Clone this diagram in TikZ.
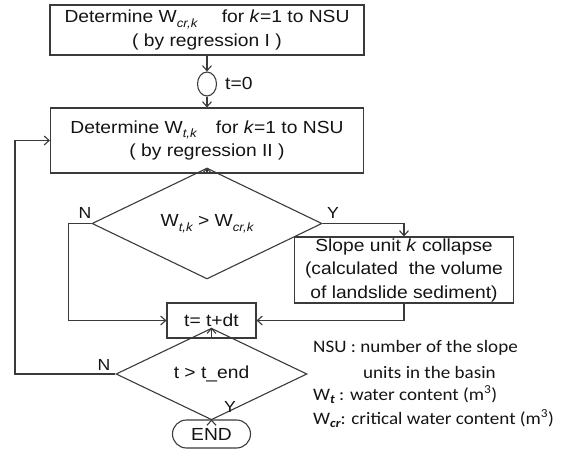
\documentclass[tikz,border=0pt]{standalone}
\usepackage{fontspec}
\setmainfont{Liberation Sans}[FakeStretch=1.1]
\newfontfamily\legendfont{Carlito}[FakeStretch=1.09]
\usetikzlibrary{arrows.meta,shapes.geometric,shapes.misc}

\definecolor{linegray}{HTML}{3A3A3A}
\definecolor{txt}{HTML}{141414}

% italic, lowered subscript used after W
\newcommand{\lowsub}[1]{\raisebox{-0.5ex}{\fontsize{12}{12}\selectfont\itshape #1}}
\newcommand{\mainsize}{\fontsize{17.5}{23.5}\selectfont}

\begin{document}
\begin{tikzpicture}[x=1pt,y=-1pt,
  every node/.style={text=txt},
  line/.style={draw=linegray, line width=1.1pt},
  arr/.style={line, -{Straight Barb[length=5pt,width=9pt]}},
  procbox/.style={rectangle, draw=linegray, line width=1.1pt, inner sep=0pt,
    align=center, font=\mainsize},
  decision/.style={diamond, draw=linegray, line width=1.1pt, inner sep=0pt,
    font=\mainsize},
  lbl/.style={font=\fontsize{16}{16}\selectfont, inner sep=0pt},
  legend/.style={font=\legendfont\fontsize{17.5}{17.5}\selectfont, inner sep=0pt, anchor=west}
]
\useasboundingbox (0,0) rectangle (563,450);

% process boxes
\node[procbox, minimum width=314pt, minimum height=50pt] (b1) at (207,30)
  {Determine W\lowsub{cr,k}\hspace{1.4em}for \textit{k}=1 to NSU\\( by regression I )};
\node[ellipse, draw=linegray, line width=1.1pt, inner sep=0pt,
  minimum width=19pt, minimum height=24pt] (c0) at (207,84) {};
\node[lbl, anchor=west, font=\mainsize] (t0) at (225,83) {t=0};
\node[procbox, minimum width=313pt, minimum height=65pt] (b2) at (207,140.5)
  {Determine W\lowsub{t,k}\hspace{1.1em}for \textit{k}=1 to NSU\\( by regression II )};

% first decision
\node[decision, minimum width=230pt, minimum height=71pt] (d1) at (207,223.5)
  {W\lowsub{t,k} > W\lowsub{cr,k}};
\node[lbl] (n1) at (85,213) {N};
\node[lbl] (y1) at (333,213) {Y};

\node[procbox, minimum width=219pt, minimum height=66pt] (b3) at (404,270)
  {Slope unit \textit{k} collapse\\(calculated\ \ the volume\\of landslide sediment)};

\node[procbox, minimum width=89pt, minimum height=35pt] (tdt) at (211.5,320.5) {t= t+dt};

% second decision
\node[decision, minimum width=191pt, minimum height=46pt] (d2) at (211.5,374) {t > t\_end};
\node[lbl] (n2) at (104,365) {N};
\node[lbl] (y2) at (230,407) {Y};

\node[rounded rectangle, draw=linegray, line width=1.1pt, inner sep=0pt,
  minimum width=78pt, minimum height=28pt, font=\mainsize] (end) at (211.5,434) {END};

% connectors
\draw[arr] (b1.south) -- (c0.north);
\draw[arr] (c0.south) -- (b2.north);
\draw[arr] (b2.south) -- (d1.north);
\draw[arr] (d1.west) -- ++(-23,0) |- (tdt.west);
\draw[arr] (d1.east) -| (b3.north);
\draw[arr] (b3.south) |- (tdt.east);
\draw[arr] (tdt.south) -- (d2.north);
\draw[arr] (d2.west) -- ++(-100.5,0) |- (b2.west);
\draw[arr] (d2.south) -- (end.north);

% legend
\node[legend] (l1) at (313,348) {NSU : number of the slope};
\node[legend] (l2) at (363,372) {units in the basin};
\node[legend] (l3) at (313,395) {W\raisebox{-0.45ex}{\fontsize{12.5}{12.5}\selectfont\bfseries\itshape t} : water content (m\textsuperscript{3})};
\node[legend] (l4) at (313,419) {W\raisebox{-0.45ex}{\fontsize{12.5}{12.5}\selectfont\bfseries\itshape cr}: critical water content (m\textsuperscript{3})};
\end{tikzpicture}
\end{document}
